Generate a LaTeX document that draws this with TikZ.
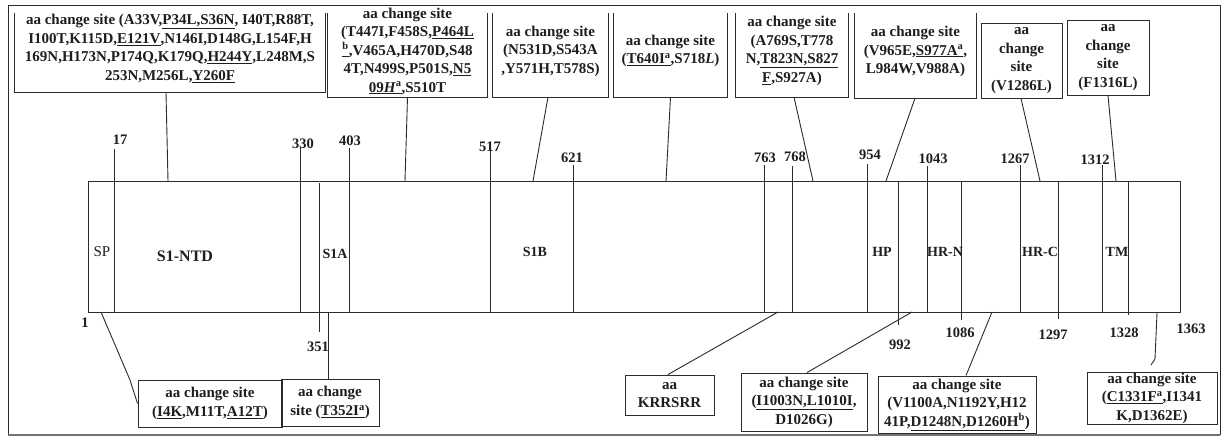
\documentclass[tikz,border=0pt]{standalone}
\usepackage{fontspec}
\setmainfont{Liberation Serif}
\usetikzlibrary{calc}
\definecolor{ln}{HTML}{2B2B2B}
\definecolor{txt}{HTML}{1E1E1E}
\newcommand{\bxfont}{\fontsize{15}{18.5}\selectfont\bfseries}
\newcommand{\posfont}{\fontsize{14.5}{16}\selectfont\bfseries}
\newcommand{\domfont}{\fontsize{14}{16}\selectfont\bfseries}
\begin{document}
\begin{tikzpicture}[x=1pt,y=-1pt,
  ln/.style={draw=ln, line width=0.9pt},
  bx/.style={inner sep=0pt, align=center, text=txt, font=\bxfont},
  bbx/.style={bx, draw=ln, line width=0.9pt},
  posl/.style={inner sep=0pt, text=txt, font=\posfont},
  doml/.style={inner sep=0pt, text=txt, font=\domfont}]
\useasboundingbox (0,0) rectangle (1224,439);
\fill[white] (0,0) rectangle (1224,439);
% outer frame
\draw[ln] (8,435) -- (8,5) -- (1220,5) -- (1220,435);
\draw[draw=black!55, line width=2.5pt] (8,435) -- (1220,435);

% ---------- top boxes (open at the top) ----------
\node[bx, minimum width=310pt, minimum height=87pt] (A) at (170,48.5)
  {aa change site (A33V,\underline{P34L,S36N}, I40T,R88T,\\
   I100T,K115D,\underline{E121V},N146I,D148G,L154F,H\\
   169N,H173N,P174Q,K179Q,\underline{H244Y},L248M,S\\
   253N,M256L,\underline{Y260F}};
\node[bx, minimum width=159pt, minimum height=92pt] (B) at (407.5,51)
  {aa change site\\
   (T447I,F458S,\underline{P464L}\\
   \underline{\textsuperscript{b}},V465A,H470D,S48\\
   4T,N499S,P501S,\underline{N5}\\
   \underline{09\textit{H}\textsuperscript{a}},S510T};
\node[bx, minimum width=115pt, minimum height=92pt] (C) at (550.5,51)
  {aa change site\\(N531D,S543A\\,Y571H,T578S)};
\node[bx, minimum width=113pt, minimum height=92pt] (D) at (670.5,51)
  {aa change site\\(\underline{T640I\textsuperscript{a}},S718\textit{L})};
\node[bx, minimum width=112pt, minimum height=92pt] (E) at (792,51)
  {aa change site\\(A769S,T778\\N,\underline{T823N,S827}\\\underline{F},S927A)};
\node[bx, minimum width=121pt, minimum height=93pt] (F) at (915.5,51.5)
  {aa change site\\(V965E,\underline{S977A\textsuperscript{a}},\\L984W,V988A)};
\foreach \n in {A,B,C,D,E,F}
  \draw[ln] ([yshift=-8pt]\n.north west) -- (\n.south west) -- (\n.south east) -- ([yshift=-8pt]\n.north east);
\node[bbx, minimum width=81pt, minimum height=75pt] (G) at (1021.5,60.5)
  {aa\\change\\site\\(V1286L)};
\node[bbx, minimum width=82pt, minimum height=75pt] (H) at (1108,57.5)
  {aa\\change\\site\\(F1316L)};

% ---------- main bar ----------
\node[draw=ln, line width=0.9pt, minimum width=1092pt, minimum height=131pt,
      anchor=north west, inner sep=0pt] (bar) at (88,181) {};

% position ticks with labels above
\foreach \x/\t in {114/149, 300/147, 349/148, 490/150, 573/165, 764/165, 792/166,
                   867/164, 927/166, 1020/165, 1102/165}
  \draw[ln] (\x,\t) -- (\x,312);
\node[posl] (p17)   at (120,140) {17};
\node[posl] (p330)  at (303,144) {330};
\node[posl] (p403)  at (350,141) {403};
\node[posl] (p517)  at (490,147) {517};
\node[posl] (p621)  at (572,158) {621};
\node[posl] (p763)  at (765,158) {763};
\node[posl] (p768)  at (795,157) {768};
\node[posl] (p954)  at (870,155) {954};
\node[posl] (p1043) at (933,159) {1043};
\node[posl] (p1267) at (1015,159) {1267};
\node[posl] (p1312) at (1095,160) {1312};

% position ticks with labels below
\draw[ln] (319,183) -- (319,332);
\draw[ln] (898,181) -- (898,325);
\draw[ln] (961,181) -- (961,320);
\draw[ln] (1058,181) -- (1058,319);
\draw[ln] (1128,181) -- (1128,315);
\node[posl] (p1)    at (85,323)   {1};
\node[posl] (p351)  at (318,347)  {351};
\node[posl] (p992)  at (900,345)  {992};
\node[posl] (p1086) at (960,333)  {1086};
\node[posl] (p1297) at (1053,335) {1297};
\node[posl] (p1328) at (1124,333) {1328};
\node[posl] (p1363) at (1191,329) {1363};

% domain labels
\node[inner sep=0pt, text=txt, font=\fontsize{15}{16}\selectfont] (sp) at (102,252) {SP};
\node[doml, font=\fontsize{16}{18}\selectfont\bfseries] (ntd) at (185,256) {S1-NTD};
\node[doml] (s1a)  at (335,254)  {S1A};
\node[doml] (s1b)  at (535,252)  {S1B};
\node[doml] (hp)   at (882,252)  {HP};
\node[doml] (hrn)  at (945,252)  {HR-N};
\node[doml] (hrc)  at (1040,252) {HR-C};
\node[doml] (tm)   at (1117,252) {TM};

% connectors from top boxes
\foreach \n/\dx/\x in {A/-4/168, B/0/405, C/-2.5/533, D/0/666, E/2/813, F/-0.5/886, G/-0.5/1040, H/0/1116}{
  \coordinate (t\n) at (\x,181);
  \draw[ln] ($(\n.south)+(\dx,0)$) -- (t\n);
}

% ---------- bottom boxes ----------
\node[bbx, minimum width=144pt, minimum height=47pt] (I4K) at (210,403.5)
  {aa change site\\(\underline{I4K},M11T,\underline{A12T})};
\node[bbx, minimum width=98pt, minimum height=47pt] (T352) at (330,402.5)
  {aa change\\site (\underline{T352I\textsuperscript{a}})};
\node[bbx, minimum width=89pt, minimum height=40pt] (KR) at (669.5,395)
  {aa\\KRRSRR};
\node[bbx, minimum width=126pt, minimum height=58pt] (I1003) at (804,402)
  {aa change site\\(\underline{I1003N,L1010I},\\D1026G)};
\node[bbx, minimum width=158pt, minimum height=57pt] (V1100) at (957,404.5)
  {aa change site\\(V1100A,N1192Y,H12\\41P,\underline{D1248N,D1260H\textsuperscript{b}})};
\node[bbx, minimum width=130pt, minimum height=52pt] (C1331) at (1152,398)
  {aa change site\\(\underline{C1331F\textsuperscript{a}},I1341\\K,D1362E)};

% connectors to bottom boxes
\coordinate (u1) at (101,312);
\coordinate (k1) at (130,380);
\draw[ln] (u1) -- (k1) -- (I4K.west);
\coordinate (u2) at (328,312);
\draw[ln] (u2) -- (u2 |- T352.north);
\coordinate (u3) at (778,312);
\draw[ln] (u3) -- ($(KR.north)+(-1.5,0)$);
\coordinate (u4) at (912,312);
\draw[ln] (u4) -- ($(I1003.north)+(3,0)$);
\coordinate (u5) at (992,312);
\draw[ln] (u5) -- ($(V1100.north)+(9,0)$);
\coordinate (u6) at (1157,313);
\coordinate (k6) at (1155,359);
\coordinate (k7) at (1151,365);
\draw[ln] (u6) -- (k6) -- (k7);
\end{tikzpicture}
\end{document}
